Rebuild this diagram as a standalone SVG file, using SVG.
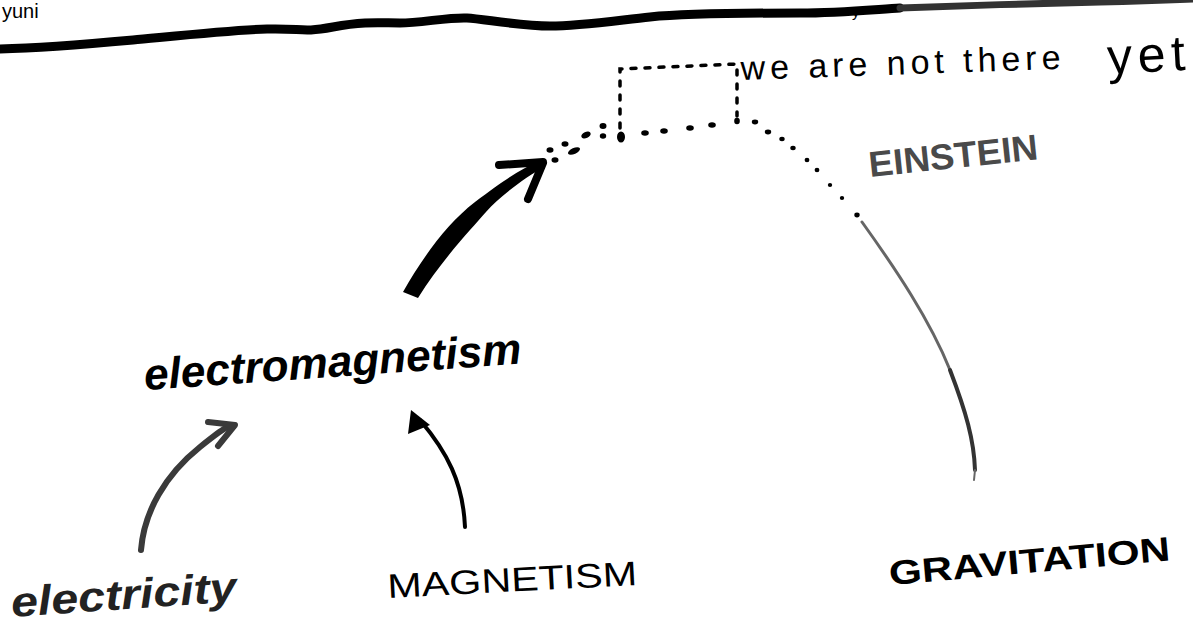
<svg xmlns="http://www.w3.org/2000/svg" width="1193" height="628" viewBox="0 0 1193 628">
<style>
.hand{font-family:"Liberation Sans","DejaVu Sans",sans-serif;}
.bold{font-weight:bold;}
.ink{fill:#000;}
.grey{fill:#4a4a4a;}
.dot{fill:#000;}
.line{fill:none;stroke:#000;stroke-linecap:round;stroke-linejoin:round;}
</style>
<rect width="1193" height="628" fill="#fff"/>
<g id="title-fragment">
  <text class="hand ink" x="2" y="18" font-size="20">yuni</text>
  <path class="line" stroke-width="9" d="M0,49 C40,48 100,43 133,40 S230,30 267,29 S300,33 333,27 S380,23 400,23 S450,17 467,18 S520,26 550,26 S620,20 650,17 S760,13 800,13 S880,9 900,8"/>
  <path fill="none" stroke="#333" stroke-width="7" stroke-linecap="round" d="M900,8 C950,6 1050,3 1100,2 S1170,0 1193,-1"/>
  <text class="hand ink" x="852" y="17" font-size="15">y</text>
</g>
<g id="connectors">
  <path fill="#000" d="M403,292 C420,262 445,225 475,202 S520,170 540,160 L544,167 C526,177 500,196 486,212 S440,262 418,298 Z"/>
  <path class="line" stroke-width="8" d="M499,165 L543,162 M528,199 L543,163"/>
  <path fill="none" stroke="#3a3a3a" stroke-width="6" stroke-linecap="round" d="M141,550 C144,512 165,475 200,447 S225,430 233,427"/>
  <path fill="none" stroke="#3a3a3a" stroke-width="6" stroke-linecap="round" stroke-linejoin="round" d="M208,422 L235,425 L218,446"/>
  <path class="line" stroke-width="4" d="M465,527 C463,482 447,452 420,420"/>
  <polygon class="ink" points="411,410 408,434 430,425"/>
  <g class="dot">
    <ellipse cx="550" cy="150" rx="3.5" ry="2.8"/>
    <ellipse cx="555" cy="160" rx="3.5" ry="2.8"/>
    <ellipse cx="565" cy="144" rx="3.5" ry="2.8"/>
    <ellipse cx="574" cy="151" rx="6.5" ry="3" transform="rotate(-25 574 151)"/>
    <ellipse cx="586" cy="135" rx="5" ry="3" transform="rotate(-25 586 135)"/>
    <ellipse cx="603" cy="126" rx="3.5" ry="3"/>
    <ellipse cx="603" cy="136" rx="3.2" ry="2.8"/>
    <ellipse cx="621" cy="137" rx="4" ry="5.5"/>
    <ellipse cx="645" cy="133" rx="3.8" ry="2.8"/>
    <ellipse cx="664" cy="131" rx="3.8" ry="2.8"/>
    <ellipse cx="690" cy="128" rx="3.8" ry="2.8"/>
    <ellipse cx="712" cy="125" rx="3.8" ry="2.8"/>
    <ellipse cx="737" cy="121" rx="2.8" ry="3.2"/>
    <ellipse cx="755" cy="122" rx="3.2" ry="2.4"/>
    <ellipse cx="768" cy="132" rx="3.2" ry="2.4"/>
    <ellipse cx="782" cy="139" rx="2.7" ry="2.2"/>
    <ellipse cx="793" cy="148" rx="2.7" ry="2.2"/>
    <ellipse cx="807" cy="160" rx="2.4" ry="2.2"/>
    <ellipse cx="817" cy="170" rx="2.4" ry="2.2"/>
    <ellipse cx="830" cy="185" rx="2.2" ry="2"/>
    <ellipse cx="842" cy="198" rx="2.2" ry="2"/>
    <ellipse cx="857" cy="215" rx="2.7" ry="2.4"/>
  </g>
  <path fill="none" stroke="#666" stroke-width="3" stroke-linecap="round" d="M862,222 C895,268 930,320 950,370"/>
  <path fill="none" stroke="#333" stroke-width="4" stroke-linecap="round" d="M950,370 C966,412 974,440 975,470"/>
  <path fill="none" stroke="#666" stroke-width="2" stroke-linecap="round" d="M975,470 L974,480"/>
</g>
<g id="node-unification">
  <path fill="none" stroke="#000" stroke-width="3.5" stroke-dasharray="5 9" stroke-linecap="round" d="M620,128 L620,69 L737,64 L737,116"/>
  <text class="hand ink" x="741" y="80" font-size="34" textLength="320" lengthAdjust="spacing" transform="rotate(-2 741 80)">we are not there</text>
  <text class="hand ink" x="1108" y="74" font-size="50" textLength="78" lengthAdjust="spacing" transform="rotate(-3 1108 74)">yet</text>
</g>
<g id="node-einstein">
  <text class="hand bold grey" x="870" y="177" font-size="36" textLength="170" lengthAdjust="spacingAndGlyphs" transform="rotate(-6 870 177)">EINSTEIN</text>
</g>
<g id="node-electromagnetism">
  <text class="hand bold ink" x="145" y="390" font-size="44" font-style="italic" textLength="378" lengthAdjust="spacingAndGlyphs" transform="rotate(-4 145 390)">electromagnetism</text>
</g>
<g id="node-electricity">
  <text class="hand bold" fill="#222" x="12" y="617" font-size="42" font-style="italic" textLength="226" lengthAdjust="spacingAndGlyphs" transform="rotate(-4 12 617)">electricity</text>
</g>
<g id="node-magnetism">
  <text class="hand ink" x="388" y="598" font-size="34" textLength="250" lengthAdjust="spacingAndGlyphs" transform="rotate(-3 388 598)">MAGNETISM</text>
</g>
<g id="node-gravitation">
  <text class="hand bold ink" x="890" y="585" font-size="34" textLength="282" lengthAdjust="spacingAndGlyphs" transform="rotate(-5 890 585)">GRAVITATION</text>
</g>
</svg>
